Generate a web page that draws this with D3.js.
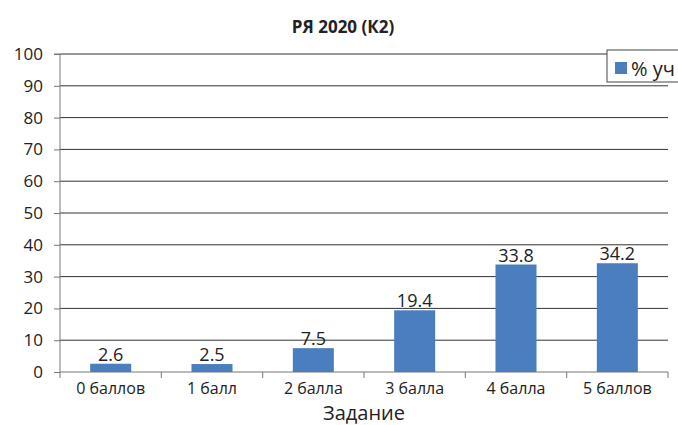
<!DOCTYPE html>
<html>
<head>
<meta charset="utf-8">
<script src="https://cdn.jsdelivr.net/npm/d3@7"></script>
<style>
  body { margin: 0; background: #fff; }
  text { font-family: "Open Sans", "Noto Sans", sans-serif; fill: #222; }
</style>
</head>
<body>
<div id="chart"></div>
<script>
// chart data
var categories = ["0 баллов", "1 балл", "2 балла", "3 балла", "4 балла", "5 баллов"];
var values = [2.6, 2.5, 7.5, 19.4, 33.8, 34.2];
var yTicks = [0, 10, 20, 30, 40, 50, 60, 70, 80, 90, 100];
var seriesName = "% уч";

var svgWidth = 678;
var svgHeight = 425;

var margin = { top: 54, right: 10, bottom: 53, left: 60 };
var width = 668 - margin.left;
var height = 372 - margin.top;

var svg = d3.select("#chart")
    .append("svg")
    .attr("width", svgWidth)
    .attr("height", svgHeight);

var chartGroup = svg.append("g")
    .attr("transform", `translate(${margin.left}, ${margin.top})`);

var xScale = d3.scaleBand()
    .domain(categories)
    .range([0, width]);

var yScale = d3.scaleLinear()
    .domain([0, 100])
    .range([height, 0]);

// gridlines
chartGroup.append("g")
    .selectAll("line")
    .data(yTicks.filter(d => d > 0))
    .enter()
    .append("line")
    .attr("x1", 0)
    .attr("x2", width)
    .attr("y1", d => yScale(d))
    .attr("y2", d => yScale(d))
    .attr("stroke", "#333")
    .attr("stroke-width", 1);

// bars
var barWidth = 41;
chartGroup.selectAll("rect")
    .data(values)
    .enter()
    .append("rect")
    .attr("x", (d, i) => xScale(categories[i]) + xScale.bandwidth() / 2 - barWidth / 2)
    .attr("y", d => yScale(d))
    .attr("width", barWidth)
    .attr("height", d => height - yScale(d))
    .attr("fill", "#4a7ebf");

// value labels
chartGroup.append("g")
    .selectAll("text")
    .data(values)
    .enter()
    .append("text")
    .attr("x", (d, i) => xScale(categories[i]) + xScale.bandwidth() / 2)
    .attr("y", d => yScale(d) - 3)
    .attr("text-anchor", "middle")
    .attr("font-size", "18px")
    .text(d => d.toFixed(1));

// y axis
var leftAxis = d3.axisLeft(yScale)
    .tickValues(yTicks)
    .tickSize(6)
    .tickPadding(11)
    .tickFormat(d3.format("d"));

var yAxis = chartGroup.append("g").call(leftAxis);
yAxis.select(".domain").attr("stroke", "#777").attr("d", `M-6,0H0V${height}`);
yAxis.selectAll(".tick line").attr("stroke", "#777");
yAxis.selectAll(".tick text").attr("font-size", "17px").attr("fill", "#222");

// x axis
var bottomAxis = d3.axisBottom(xScale)
    .tickSize(0)
    .tickPadding(11);

var xAxis = chartGroup.append("g")
    .attr("transform", `translate(0, ${height})`)
    .call(bottomAxis);
xAxis.select(".domain").attr("stroke", "#777").attr("d", `M0,0H${width}`);
xAxis.selectAll(".tick text").attr("font-size", "16px").attr("fill", "#222");

// category separators
xAxis.append("g")
    .selectAll("line")
    .data(d3.range(categories.length + 1))
    .enter()
    .append("line")
    .attr("x1", i => i * xScale.step())
    .attr("x2", i => i * xScale.step())
    .attr("y1", 0)
    .attr("y2", 6)
    .attr("stroke", "#777");

// title
svg.append("text")
    .attr("x", 343)
    .attr("y", 33)
    .attr("text-anchor", "middle")
    .attr("font-size", "17px")
    .attr("font-weight", "bold")
    .text("РЯ 2020 (К2)");

// x axis label
svg.append("text")
    .attr("x", 364)
    .attr("y", 420)
    .attr("text-anchor", "middle")
    .attr("font-size", "20px")
    .text("Задание");

// legend (runs off the right edge like the original)
var legend = svg.append("g")
    .attr("transform", "translate(607, 50)");

legend.append("rect")
    .attr("x", 0)
    .attr("y", 0)
    .attr("width", 90)
    .attr("height", 32)
    .attr("fill", "#fff")
    .attr("stroke", "#444");

legend.append("rect")
    .attr("x", 8)
    .attr("y", 12)
    .attr("width", 12)
    .attr("height", 12)
    .attr("fill", "#4a7ebf");

legend.append("text")
    .attr("x", 24)
    .attr("y", 26)
    .attr("font-size", "20px")
    .text(seriesName);
</script>
</body>
</html>
